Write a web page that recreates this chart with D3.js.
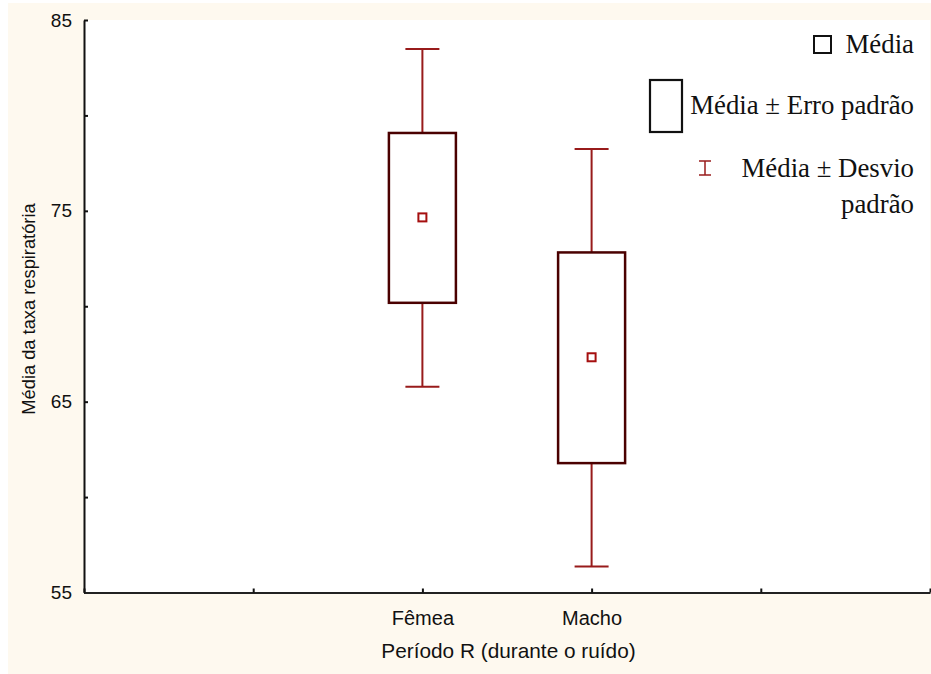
<!DOCTYPE html>
<html>
<head>
<meta charset="utf-8">
<script src="https://cdn.jsdelivr.net/npm/d3@7"></script>
<style>
  html, body { margin: 0; padding: 0; background: #ffffff; }
  svg { display: block; }
</style>
</head>
<body>
<svg id="chart" width="931" height="674"></svg>
<script>
// Respiratory rate by sex during the noise period
const categories = ["Fêmea", "Macho"];
const categoryPos = [2, 3];
const means = [74.63, 67.30];
const stdErr = [4.45, 5.52];
const stdDev = [8.85, 10.94];

const yTicks = [55, 60, 65, 70, 75, 80, 85];
const yLabelled = [55, 65, 75, 85];
const xTicks = [0, 1, 2, 3, 4, 5];

const legendItems = ["Média", "Média ± Erro padrão", "Média ± Desvio", "padrão"];

const svg = d3.select("#chart");

// frame backgrounds
svg.append("rect").attr("x", 8).attr("y", 3).attr("width", 923).attr("height", 671)
  .attr("fill", "#fef9ef");
const plot = { left: 84, right: 930, top: 20, bottom: 592.5 };
svg.append("rect").attr("x", plot.left).attr("y", plot.top)
  .attr("width", plot.right - plot.left).attr("height", plot.bottom - plot.top)
  .attr("fill", "#ffffff");

const x = d3.scaleLinear().domain([0, 5]).range([plot.left, plot.right]);
const y = d3.scaleLinear().domain([55, 85]).range([plot.bottom, plot.top]);

// y axis
const yAxis = d3.axisLeft(y)
  .tickValues(yTicks)
  .tickSizeInner(-4)
  .tickSizeOuter(0)
  .tickPadding(12)
  .tickFormat(d => yLabelled.includes(d) ? d : "");
const gy = svg.append("g").attr("transform", `translate(${plot.left},0)`).call(yAxis);
gy.select(".domain").attr("stroke", "#111").attr("stroke-width", 2);
gy.selectAll(".tick line").attr("stroke", "#111").attr("stroke-width", 2);
gy.selectAll(".tick text").attr("font-family", "Arial, 'Liberation Sans', sans-serif")
  .attr("font-size", 19).attr("fill", "#111");

// x axis
const xAxis = d3.axisBottom(x)
  .tickValues(xTicks)
  .tickSizeInner(-4)
  .tickSizeOuter(0)
  .tickPadding(18)
  .tickFormat(d => { const i = categoryPos.indexOf(d); return i >= 0 ? categories[i] : ""; });
const gx = svg.append("g").attr("transform", `translate(0,${plot.bottom})`).call(xAxis);
gx.select(".domain").attr("stroke", "#222").attr("stroke-width", 2);
gx.selectAll(".tick line").attr("stroke", "#111").attr("stroke-width", 2);
gx.selectAll(".tick text").attr("font-family", "Arial, 'Liberation Sans', sans-serif")
  .attr("font-size", 20).attr("fill", "#111");

// axis titles
svg.append("text")
  .attr("x", 508.5).attr("y", 658)
  .attr("text-anchor", "middle")
  .attr("font-family", "Arial, 'Liberation Sans', sans-serif")
  .attr("font-size", 20.8).attr("fill", "#111")
  .text("Período R (durante o ruído)");
svg.append("text")
  .attr("transform", "translate(35,309) rotate(-90)")
  .attr("text-anchor", "middle")
  .attr("font-family", "Arial, 'Liberation Sans', sans-serif")
  .attr("font-size", 18.3).attr("fill", "#111")
  .text("Média da taxa respiratória");

const boxW = 67, capW = 34, markSize = 9;
const whiskerColor = "#981b1b", boxColor = "#4a0000", meanColor = "#a50f0f";

const groups = svg.append("g").selectAll("g").data(categories).join("g")
  .attr("transform", (d, i) => `translate(${x(categoryPos[i])},0)`);

groups.each(function (d, i) {
  const g = d3.select(this);
  const top = y(means[i] + stdDev[i]), bot = y(means[i] - stdDev[i]);
  const bTop = y(means[i] + stdErr[i]), bBot = y(means[i] - stdErr[i]);
  // standard deviation whiskers
  g.append("line").attr("x1", 0).attr("x2", 0).attr("y1", top).attr("y2", bTop)
    .attr("stroke", whiskerColor).attr("stroke-width", 2);
  g.append("line").attr("x1", 0).attr("x2", 0).attr("y1", bBot).attr("y2", bot)
    .attr("stroke", whiskerColor).attr("stroke-width", 2);
  g.append("line").attr("x1", -capW / 2).attr("x2", capW / 2).attr("y1", top).attr("y2", top)
    .attr("stroke", whiskerColor).attr("stroke-width", 2);
  g.append("line").attr("x1", -capW / 2).attr("x2", capW / 2).attr("y1", bot).attr("y2", bot)
    .attr("stroke", whiskerColor).attr("stroke-width", 2);
  // standard error box
  g.append("rect").attr("x", -boxW / 2).attr("y", bTop)
    .attr("width", boxW).attr("height", bBot - bTop)
    .attr("fill", "none").attr("stroke", boxColor).attr("stroke-width", 2.5);
  // mean marker
  g.append("rect").attr("x", -markSize / 2 + 0.5).attr("y", y(means[i]) - markSize / 2)
    .attr("width", markSize - 1).attr("height", markSize - 1)
    .attr("fill", "#ffffff").attr("stroke", meanColor).attr("stroke-width", 2);
});

// legend
const legend = svg.append("g");
const serif = "'Times New Roman', 'Liberation Serif', serif";
legend.append("rect").attr("x", 814).attr("y", 36).attr("width", 17).attr("height", 17)
  .attr("fill", "none").attr("stroke", "#111").attr("stroke-width", 2);
legend.append("rect").attr("x", 650).attr("y", 80).attr("width", 32).attr("height", 52)
  .attr("fill", "none").attr("stroke", "#111").attr("stroke-width", 2.2);
const ix = 705, iTop = 161, iBot = 175;
legend.append("line").attr("x1", ix).attr("x2", ix).attr("y1", iTop).attr("y2", iBot)
  .attr("stroke", whiskerColor).attr("stroke-width", 1.5);
legend.append("line").attr("x1", ix - 6).attr("x2", ix + 6).attr("y1", iTop).attr("y2", iTop)
  .attr("stroke", whiskerColor).attr("stroke-width", 1.5);
legend.append("line").attr("x1", ix - 6).attr("x2", ix + 6).attr("y1", iBot).attr("y2", iBot)
  .attr("stroke", whiskerColor).attr("stroke-width", 1.5);

const legendBaselines = [53, 114, 177, 213];
legend.selectAll("text").data(legendItems).join("text")
  .attr("x", 914).attr("y", (d, i) => legendBaselines[i])
  .attr("text-anchor", "end")
  .attr("font-family", serif).attr("font-size", 26.8).attr("fill", "#111")
  .text(d => d);
</script>
</body>
</html>
